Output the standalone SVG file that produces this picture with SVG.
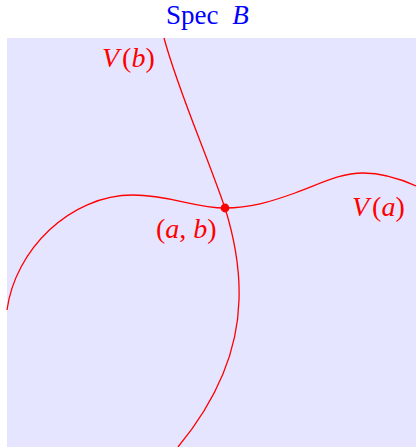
<svg xmlns="http://www.w3.org/2000/svg" width="416" height="447" viewBox="0 0 416 447">
<style>
.curve{fill:none;stroke:#ff0000;stroke-width:1.3}
.lbl{font-family:'Liberation Serif','Times New Roman',serif;font-size:28px;fill:#ff0000}
.it{font-style:italic}
.title{font-family:'Liberation Serif','Times New Roman',serif;font-size:27px;fill:#0000ff}
</style>
<rect id="spec" x="7" y="38" width="409" height="409" fill="#e5e5ff"/>
<text class="title" x="166" y="24">Spec <tspan class="it" dx="7">B</tspan></text>
<g id="connectors">
<path id="Va" class="curve" d="M7,310 C15,250 70,195 133,195 C170,195 195,208 225,208 C250,208 270,202 295,193 C320,184 340,173 363,173 C385,173 405,181 416,186"/>
<path id="Vb" class="curve" d="M164,38 C178,90 205,150 225,208 C235,240 240,270 239,300 C238,340 225,390 178,447"/>
</g>
<g id="point">
<circle cx="225" cy="208" r="4.4" fill="#ff0000"/>
<text class="lbl" x="156" y="238">(<tspan class="it">a</tspan>, <tspan class="it">b</tspan>)</text>
</g>
<g id="labelVb">
<text class="lbl" x="102" y="67"><tspan class="it">V</tspan><tspan dx="3">(</tspan><tspan class="it">b</tspan>)</text>
</g>
<g id="labelVa">
<text class="lbl" x="352" y="216"><tspan class="it">V</tspan><tspan dx="3">(</tspan><tspan class="it">a</tspan>)</text>
</g>
</svg>
